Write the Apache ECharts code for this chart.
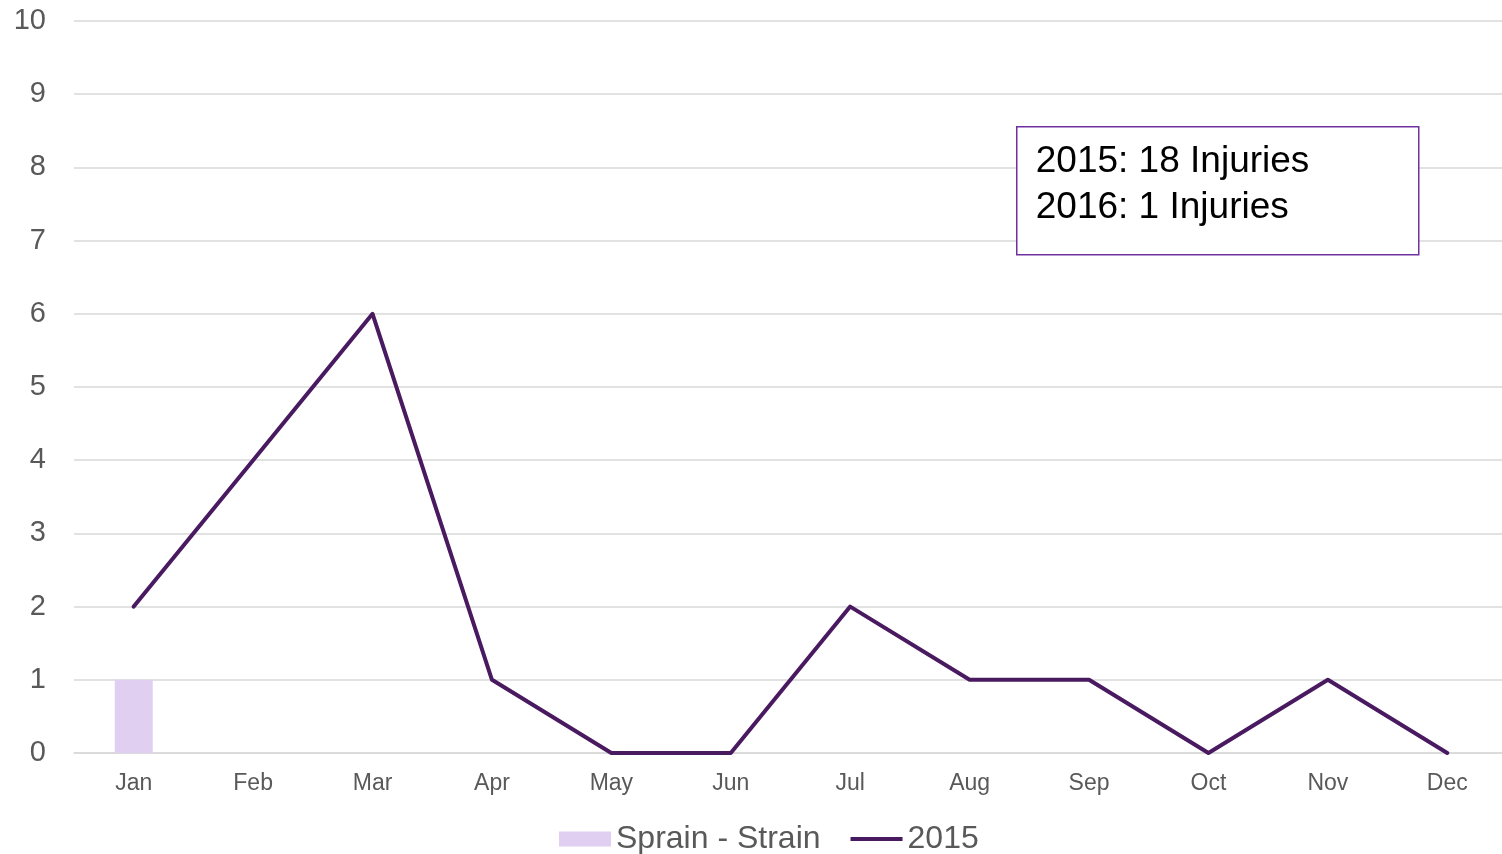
<!DOCTYPE html>
<html lang="en">

<head>
    <meta charset="UTF-8">
    <title>Sprain - Strain</title>
    <style>
        html, body { margin: 0; padding: 0; background: #fff; }
        #main { width: 1502px; height: 854px; }
    </style>
</head>

<body>
    <div id="main"></div>

    <script src="https://cdn.jsdelivr.net/npm/echarts@6/dist/echarts.min.js"></script>
    <script>
        // data
        var months = ['Jan', 'Feb', 'Mar', 'Apr', 'May', 'Jun', 'Jul', 'Aug', 'Sep', 'Oct', 'Nov', 'Dec'];
        var sprain2016 = [1, null, null, null, null, null, null, null, null, null, null, null];
        var line2015 = [2, 4, 6, 1, 0, 0, 2, 1, 1, 0, 1, 0];
        var boxLines = ['2015: 18 Injuries', '2016: 1 Injuries'];

        var chart = echarts.init(document.getElementById('main'));

        var option = {
            animation: false,
            textStyle: { fontFamily: 'Liberation Sans, Arial, sans-serif' },
            grid: { left: 74, top: 21, width: 1433, height: 732, outerBoundsMode: 'none', containLabel: false },
            legend: {
                top: 818,
                left: 554,
                itemWidth: 52,
                itemHeight: 15,
                itemGap: 30,
                symbolKeepAspect: true,
                textStyle: { color: '#595959', fontSize: 32 },
                data: [
                    { name: 'Sprain - Strain', icon: 'rect' },
                    { name: '2015', icon: 'path://M0,0 H52 V4 H0 Z' }
                ]
            },
            xAxis: {
                type: 'category',
                data: months,
                axisTick: { show: false },
                axisLine: { lineStyle: { color: '#d9d9d9', width: 1.5 } },
                axisLabel: { color: '#595959', fontSize: 23, margin: 19 }
            },
            yAxis: {
                type: 'value',
                min: 0,
                max: 10,
                interval: 1,
                axisLine: { show: false },
                axisTick: { show: false },
                splitLine: { lineStyle: { color: '#d9d9d9', width: 1.5 } },
                axisLabel: { color: '#595959', fontSize: 29, margin: 28, padding: [4, 0, 0, 0] }
            },
            series: [{
                name: 'Sprain - Strain',
                type: 'bar',
                data: sprain2016,
                barWidth: 38,
                itemStyle: { color: '#e0cff0' }
            }, {
                name: '2015',
                type: 'line',
                data: line2015,
                symbol: 'none',
                lineStyle: { color: '#4a1a60', width: 4, cap: 'round', join: 'round' },
                itemStyle: { color: '#4a1a60' }
            }],
            graphic: [{
                type: 'group',
                left: 1016,
                top: 126,
                z: 100,
                children: [{
                    type: 'rect',
                    z: 100,
                    shape: { x: 0, y: 0, width: 402, height: 128 },
                    style: { fill: '#fff', stroke: '#7030a0', lineWidth: 1.5 }
                }, {
                    type: 'text',
                    z: 101,
                    x: 19,
                    y: 12,
                    style: {
                        text: boxLines.join('\n'),
                        fill: '#000',
                        fontSize: 37,
                        lineHeight: 46,
                        fontFamily: 'Liberation Sans, Arial, sans-serif'
                    }
                }]
            }]
        };

        chart.setOption(option);
    </script>
</body>

</html>
